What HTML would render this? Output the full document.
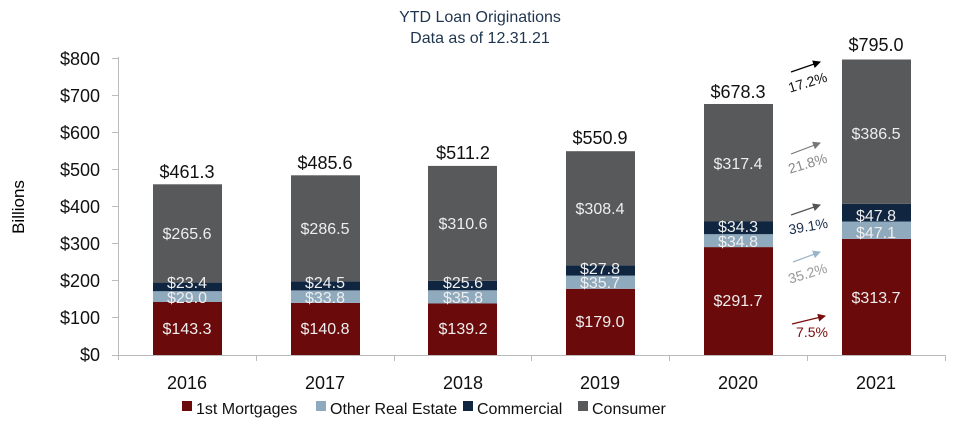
<!DOCTYPE html>
<html><head><meta charset="utf-8"><style>
body{margin:0;background:#fff}
svg text{font-family:"Liberation Sans",sans-serif}
</style></head><body>
<svg width="961" height="426" viewBox="0 0 961 426" xmlns="http://www.w3.org/2000/svg">
<defs>
<marker id="a1" markerWidth="8" markerHeight="8" refX="7" refY="4" orient="auto" markerUnits="userSpaceOnUse"><path d="M0,0 L8,4 L0,8z" fill="#000"/></marker>
<marker id="a2" markerWidth="8" markerHeight="8" refX="7" refY="4" orient="auto" markerUnits="userSpaceOnUse"><path d="M0,0 L8,4 L0,8z" fill="#777"/></marker>
<marker id="a3" markerWidth="8" markerHeight="8" refX="7" refY="4" orient="auto" markerUnits="userSpaceOnUse"><path d="M0,0 L8,4 L0,8z" fill="#555"/></marker>
<marker id="a4" markerWidth="8" markerHeight="8" refX="7" refY="4" orient="auto" markerUnits="userSpaceOnUse"><path d="M0,0 L8,4 L0,8z" fill="#9ab4c8"/></marker>
<marker id="a5" markerWidth="8" markerHeight="8" refX="7" refY="4" orient="auto" markerUnits="userSpaceOnUse"><path d="M0,0 L8,4 L0,8z" fill="#7a0c0c"/></marker>
</defs>
<text x="480" y="22" font-size="16" fill="#1f3550" text-anchor="middle">YTD Loan Originations</text>
<text x="480" y="43" font-size="16" fill="#1f3550" text-anchor="middle">Data as of 12.31.21</text>
<text transform="translate(24,207) rotate(-90)" font-size="17" text-anchor="middle">Billions</text>
<g font-size="18" text-anchor="end" fill="#111">
<text x="100" y="65">$800</text><text x="100" y="102">$700</text><text x="100" y="139">$600</text><text x="100" y="176">$500</text><text x="100" y="213">$400</text><text x="100" y="250">$300</text><text x="100" y="287">$200</text><text x="100" y="324">$100</text><text x="100" y="361">$0</text>
</g>
<g stroke="#bbb" stroke-width="1">
<line x1="118.5" y1="57" x2="118.5" y2="360"/>
<line x1="112" y1="58.5" x2="118" y2="58.5"/><line x1="112" y1="95.5" x2="118" y2="95.5"/><line x1="112" y1="132.5" x2="118" y2="132.5"/><line x1="112" y1="169.5" x2="118" y2="169.5"/><line x1="112" y1="206.5" x2="118" y2="206.5"/><line x1="112" y1="243.5" x2="118" y2="243.5"/><line x1="112" y1="280.5" x2="118" y2="280.5"/><line x1="112" y1="317.5" x2="118" y2="317.5"/>
<line x1="112" y1="355.5" x2="946" y2="355.5"/>
<line x1="256.5" y1="355" x2="256.5" y2="361"/><line x1="394.5" y1="355" x2="394.5" y2="361"/><line x1="531.5" y1="355" x2="531.5" y2="361"/><line x1="669.5" y1="355" x2="669.5" y2="361"/><line x1="807.5" y1="355" x2="807.5" y2="361"/><line x1="945.5" y1="355" x2="945.5" y2="361"/>
</g>
<g>
<rect x="153" y="302" width="69" height="53" fill="#6b0a0a"/><rect x="153" y="291.2" width="69" height="10.8" fill="#8fa9bd"/><rect x="153" y="282.6" width="69" height="8.6" fill="#0f2540"/><rect x="153" y="184.3" width="69" height="98.3" fill="#58595b"/>
<rect x="291" y="302.9" width="69" height="52.1" fill="#6b0a0a"/><rect x="291" y="290.4" width="69" height="12.5" fill="#8fa9bd"/><rect x="291" y="281.3" width="69" height="9.1" fill="#0f2540"/><rect x="291" y="175.3" width="69" height="106" fill="#58595b"/>
<rect x="428" y="303.5" width="69" height="51.5" fill="#6b0a0a"/><rect x="428" y="290.3" width="69" height="13.2" fill="#8fa9bd"/><rect x="428" y="280.8" width="69" height="9.5" fill="#0f2540"/><rect x="428" y="165.9" width="69" height="114.9" fill="#58595b"/>
<rect x="566" y="288.8" width="69" height="66.2" fill="#6b0a0a"/><rect x="566" y="275.6" width="69" height="13.2" fill="#8fa9bd"/><rect x="566" y="265.3" width="69" height="10.3" fill="#0f2540"/><rect x="566" y="151.2" width="69" height="114.1" fill="#58595b"/>
<rect x="704" y="247.1" width="69" height="107.9" fill="#6b0a0a"/><rect x="704" y="234.2" width="69" height="12.9" fill="#8fa9bd"/><rect x="704" y="221.5" width="69" height="12.7" fill="#0f2540"/><rect x="704" y="104" width="69" height="117.5" fill="#58595b"/>
<rect x="842" y="238.9" width="69" height="116.1" fill="#6b0a0a"/><rect x="842" y="221.5" width="69" height="17.4" fill="#8fa9bd"/><rect x="842" y="203.8" width="69" height="17.7" fill="#0f2540"/><rect x="842" y="59.5" width="69" height="144.3" fill="#58595b"/>
</g>
<g font-size="16" fill="#eee" text-anchor="middle">
<text x="187" y="334">$143.3</text><text x="187" y="303">$29.0</text><text x="187" y="288">$23.4</text><text x="187" y="239">$265.6</text>
<text x="325" y="334">$140.8</text><text x="325" y="303">$33.8</text><text x="325" y="288">$24.5</text><text x="325" y="234">$286.5</text>
<text x="463" y="334">$139.2</text><text x="463" y="303">$35.8</text><text x="463" y="288">$25.6</text><text x="463" y="229">$310.6</text>
<text x="600" y="327">$179.0</text><text x="600" y="288">$35.7</text><text x="600" y="274">$27.8</text><text x="600" y="214">$308.4</text>
<text x="738" y="306">$291.7</text><text x="738" y="247">$34.8</text><text x="738" y="232">$34.3</text><text x="738" y="169">$317.4</text>
<text x="876" y="303">$313.7</text><text x="876" y="238">$47.1</text><text x="876" y="221">$47.8</text><text x="876" y="139">$386.5</text>
</g>
<g font-size="18" fill="#111" text-anchor="middle">
<text x="187" y="178">$461.3</text><text x="325" y="169">$485.6</text><text x="463" y="159">$511.2</text><text x="600" y="144">$550.9</text><text x="738" y="98">$678.3</text><text x="876" y="51">$795.0</text>
</g>
<g stroke-width="1.2">
<line x1="791" y1="72" x2="820" y2="62" stroke="#000" marker-end="url(#a1)"/>
<line x1="791" y1="154" x2="820" y2="143" stroke="#777" marker-end="url(#a2)"/>
<line x1="791" y1="215" x2="820" y2="205" stroke="#555" marker-end="url(#a3)"/>
<line x1="793" y1="262" x2="820" y2="252" stroke="#9ab4c8" marker-end="url(#a4)"/>
<line x1="792" y1="324" x2="825" y2="316" stroke="#7a0c0c" marker-end="url(#a5)"/>
</g>
<g font-size="14" text-anchor="middle">
<text transform="translate(809,87) rotate(-17)" fill="#111">17.2%</text>
<text transform="translate(809,168) rotate(-17)" fill="#888">21.8%</text>
<text transform="translate(809,231) rotate(-10)" fill="#1a2f4d">39.1%</text>
<text transform="translate(809,278) rotate(-17)" fill="#999">35.2%</text>
<text x="812" y="337" fill="#7a0c0c">7.5%</text>
</g>
<g font-size="18" fill="#111" text-anchor="middle">
<text x="187" y="389">2016</text><text x="325" y="389">2017</text><text x="463" y="389">2018</text><text x="600" y="389">2019</text><text x="738" y="389">2020</text><text x="876" y="389">2021</text>
</g>
<g font-size="16" fill="#111">
<rect x="182" y="401" width="10" height="10" fill="#6b0a0a"/><text x="196" y="414">1st Mortgages</text>
<rect x="316" y="401" width="10" height="10" fill="#8fa9bd"/><text x="330" y="414">Other Real Estate</text>
<rect x="463" y="401" width="10" height="10" fill="#0f2540"/><text x="477" y="414">Commercial</text>
<rect x="578" y="401" width="10" height="10" fill="#58595b"/><text x="592" y="414">Consumer</text>
</g>
</svg>
</body></html>
